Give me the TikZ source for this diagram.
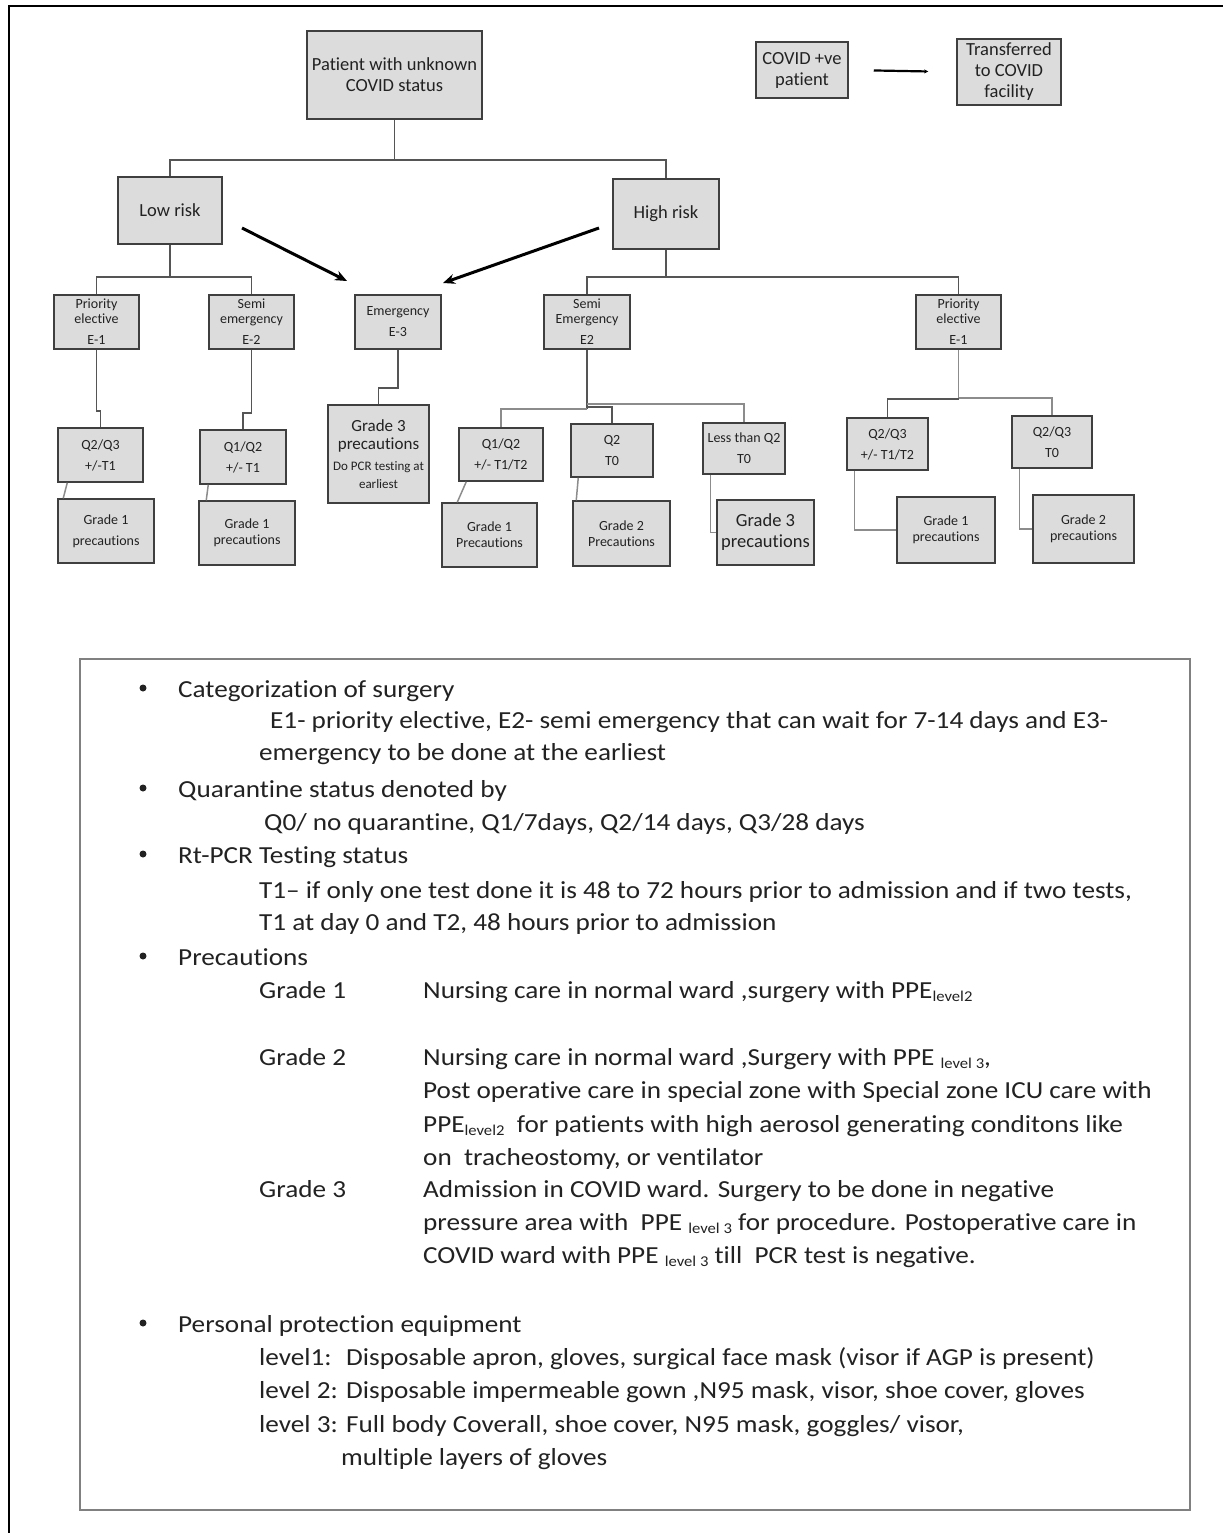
\documentclass[tikz,border=0pt]{standalone}
\usepackage{fontspec}
\setmainfont{Carlito}[Ligatures={NoCommon,TeX}]
\newfontfamily\lgfont{Carlito}[FakeStretch=1.11,Ligatures={NoCommon,TeX}]
\usetikzlibrary{arrows.meta}
\definecolor{boxfill}{HTML}{DCDCDC}
\definecolor{boxline}{HTML}{3F3F3F}
\definecolor{connc}{HTML}{555555}
\definecolor{connlight}{HTML}{8C8C8C}
\definecolor{txt}{HTML}{222222}
\newcommand\fs[2]{\fontsize{#1}{#2}\selectfont}
\newcommand\lv[1]{\raisebox{-3pt}{\fontsize{15}{15}\selectfont #1}}
\begin{document}
\begin{tikzpicture}[x=1pt,y=-1pt,
  box/.style={draw=boxline,fill=boxfill,line width=1.5pt,inner sep=0pt,align=center,text=txt},
  big/.style={font=\fs{18.5}{21}},
  small/.style={font=\fs{14}{15}},
  conn/.style={draw=connc,line width=1.5pt},
  connl/.style={draw=connlight,line width=1.5pt},
  bigarrow/.style={draw=black,line width=3pt,-{Stealth[length=12pt,width=10pt]}},
  lg/.style={anchor=base west,inner sep=0pt,text=txt,font=\lgfont\fs{24.5}{30}},
  bul/.style={fill=txt}
]
\fill[white] (0,0) rectangle (1223,1533);
\useasboundingbox (0,0) rectangle (1223,1533);
% outer frame
\draw[line width=2pt] (8,6) -- (1223,6);
\draw[line width=2pt] (9,6) -- (9,1533);

% top level
\node[box,big,minimum width=175pt,minimum height=88pt] (top) at (394.5,75) {Patient with unknown\\COVID status};
\node[box,big,minimum width=104pt,minimum height=67pt] (low) at (170,210.5) {Low risk};
\node[box,big,minimum width=106pt,minimum height=70pt] (high) at (666,214) {High risk};
\node[box,big,minimum width=92pt,minimum height=56pt] (pos) at (802,70) {COVID +ve\\patient};
\node[box,big,minimum width=104pt,minimum height=66pt] (trans) at (1009,72) {Transferred\\to COVID\\facility};
\draw[line width=2.2pt,-{Stealth[length=4pt,width=4pt]},shorten <=25pt,shorten >=28pt] (pos.east) -- (trans.west);

% level 2
\node[box,small,minimum width=85pt,minimum height=54pt] (pe1) at (96.5,322) {Priority\\elective\\[6pt]E-1};
\node[box,small,minimum width=85pt,minimum height=54pt] (se1) at (251.5,322) {Semi\\emergency\\[6pt]E-2};
\node[box,small,minimum width=86pt,minimum height=54pt] (em) at (398,322) {Emergency\\[6pt]E-3};
\node[box,small,minimum width=86pt,minimum height=54pt] (se2) at (587,322) {Semi\\Emergency\\[6pt]E2};
\node[box,small,minimum width=85pt,minimum height=54pt] (pe2) at (958.5,322) {Priority\\elective\\[6pt]E-1};

% level 3
\node[box,minimum width=85pt,minimum height=54pt,font=\fs{14}{21}] (qa) at (100.5,455) {Q2/Q3\\+/-T1};
\node[box,minimum width=96pt,minimum height=64pt,font=\fs{14}{21}] (ga) at (106,531) {Grade 1\\precautions};
\node[box,minimum width=86pt,minimum height=54pt,font=\fs{14}{21}] (qb) at (243,457) {Q1/Q2\\+/- T1};
\node[box,minimum width=96pt,minimum height=64pt,font=\fs{14}{16}] (gb) at (247,533) {Grade 1\\precautions};
\node[box,minimum width=101pt,minimum height=98pt,font=\fs{17}{18}] (g3e) at (378.5,454) {Grade 3\\precautions\\[3pt]\fs{13}{14}Do PCR testing at\\\fs{13}{14}earliest};
\node[box,minimum width=84pt,minimum height=53pt,font=\fs{14}{21}] (qc) at (501,454.5) {Q1/Q2\\+/- T1/T2};
\node[box,minimum width=95pt,minimum height=64pt,font=\fs{14}{16}] (gc) at (489.5,535) {Grade 1\\Precautions};
\node[box,minimum width=82pt,minimum height=53pt,font=\fs{14}{21}] (qd) at (612,450.5) {Q2\\T0};
\node[box,minimum width=97pt,minimum height=65pt,font=\fs{14}{16}] (gd) at (621.5,533.5) {Grade 2\\Precautions};
\node[box,minimum width=82pt,minimum height=51pt,font=\fs{14}{21}] (qe) at (744,448.5) {Less than Q2\\T0};
\node[box,minimum width=97pt,minimum height=65pt,font=\fs{18.5}{21}] (ge) at (765.5,532.5) {Grade 3\\precautions};
\node[box,minimum width=81pt,minimum height=52pt,font=\fs{14}{21}] (qf) at (887.5,444) {Q2/Q3\\+/- T1/T2};
\node[box,minimum width=98pt,minimum height=66pt,font=\fs{14}{16}] (gf) at (946,530) {Grade 1\\precautions};
\node[box,minimum width=80pt,minimum height=52pt,font=\fs{14}{21}] (qg) at (1052,442) {Q2/Q3\\T0};
\node[box,minimum width=101pt,minimum height=68pt,font=\fs{14}{16}] (gg) at (1083.5,529) {Grade 2\\precautions};

% connectors
\coordinate (j0) at (394.5,160);
\draw[conn] (top.south) -- (j0) -| (low.north);
\draw[conn] (j0) -| (high.north);
\coordinate (j1) at (170,277);
\draw[conn] (low.south) -- (j1) -| (pe1.north);
\draw[conn] (j1) -| (se1.north);
\coordinate (j2) at (666,277);
\draw[conn] (high.south) -- (j2) -| (se2.north);
\draw[conn] (j2) -| (pe2.north);

\draw[conn] (pe1.south) -- ++(0,61) -| (qa.north);
\draw[conn] (se1.south) -- ++(0,63) -| (qb.north);
\draw[conn] (em.south) -- ++(0,38) -| (g3e.north);

\coordinate (j3) at (587,409);
\coordinate (j3m) at (587,407);
\coordinate (j3r) at (587,404);
\draw[conn] (se2.south) -- (j3);
\draw[connl] (j3) -| (qc.north);
\draw[conn] (j3m) -| (qd.north);
\draw[connl] (j3r) -| (qe.north);

\coordinate (j4) at (958.5,399);
\coordinate (j4r) at (958.5,398);
\draw[connl] (pe2.south) -- (j4);
\draw[conn] (j4) -| (qf.north);
\draw[connl] (j4r) -| (qg.north);

\draw[connl] ([xshift=10pt]qa.south west) -- ([xshift=6pt]ga.north west);
\draw[connl] ([xshift=9pt]qb.south west) -- ([xshift=8pt]gb.north west);
\draw[connl] ([xshift=8pt]qc.south west) -- ([xshift=16pt]gc.north west);
\draw[connl] ([xshift=8pt]qd.south west) -- ([xshift=4pt]gd.north west);
\draw[connl] ([xshift=8pt]qe.south west) |- (ge.west);
\draw[connl] ([xshift=8pt]qf.south west) |- (gf.west);
\draw[connl] ([xshift=8pt]qg.south west) |- (gg.west);

% arrows to emergency
\coordinate (a1s) at (242,228);
\coordinate (a1e) at (347,281);
\coordinate (a2s) at (599,228);
\coordinate (a2e) at (443,283);
\draw[bigarrow] (a1s) -- (a1e);
\draw[bigarrow] (a2s) -- (a2e);

% legend box
\draw[draw=gray,line width=1.5pt] (80,659) rectangle (1190,1510);

\fill[bul] (143,688) circle[radius=3.5pt];
\fill[bul] (143,788) circle[radius=3.5pt];
\fill[bul] (143,854) circle[radius=3.5pt];
\fill[bul] (143,956) circle[radius=3.5pt];
\fill[bul] (143,1323) circle[radius=3.5pt];

\node[lg] (c1) at (178,697) {Categorization of surgery};
\node[lg] (c2) at (270,728) {E1- priority elective, E2- semi emergency that can wait for 7-14 days and E3-};
\node[lg] (c3) at (259,760) {emergency to be done at the earliest};
\node[lg] (q1) at (178,797) {Quarantine status denoted by};
\node[lg] (q2) at (264,830) {Q0/ no quarantine, Q1/7days, Q2/14 days, Q3/28 days};
\node[lg] (r1) at (178,863) {Rt-PCR Testing status};
\node[lg] (r2) at (259,898) {T1– if only one test done it is 48 to 72 hours prior to admission and if two tests,};
\node[lg] (r3) at (259,930) {T1 at day 0 and T2, 48 hours prior to admission};
\node[lg] (p0) at (178,965) {Precautions};
\node[lg] (p1a) at (259,998) {Grade 1};
\node[lg] (p1b) at (423,998) {Nursing care in normal ward ,surgery with PPE\lv{level2}};
\node[lg] (p2a) at (259,1065) {Grade 2};
\node[lg] (p2b) at (423,1065) {Nursing care in normal ward ,Surgery with PPE \lv{level 3},};
\node[lg] (p2c) at (423,1098) {Post operative care in special zone with Special zone ICU care with};
\node[lg] (p2d) at (423,1132) {PPE\lv{level2}\ \ for patients with high aerosol generating conditons like};
\node[lg] (p2e) at (423,1165) {on\ \ tracheostomy, or ventilator};
\node[lg] (p3a) at (259,1197) {Grade 3};
\node[lg] (p3b) at (423,1197) {Admission in COVID ward. Surgery to be done in negative};
\node[lg] (p3c) at (423,1230) {pressure area with\ \ PPE \lv{level 3} for procedure. Postoperative care in};
\node[lg] (p3d) at (423,1263) {COVID ward with PPE \lv{level 3} till\ \ PCR test is negative.};
\node[lg] (e0) at (178,1332) {Personal protection equipment};
\node[lg] (e1a) at (259,1365) {level1:};
\node[lg] (e1b) at (346,1365) {Disposable apron, gloves, surgical face mask (visor if AGP is present)};
\node[lg] (e2a) at (259,1398) {level 2:};
\node[lg] (e2b) at (346,1398) {Disposable impermeable gown ,N95 mask, visor, shoe cover, gloves};
\node[lg] (e3a) at (259,1432) {level 3:};
\node[lg] (e3b) at (346,1432) {Full body Coverall, shoe cover, N95 mask, goggles/ visor,};
\node[lg] (e4) at (341,1465) {multiple layers of gloves};
\end{tikzpicture}
\end{document}
